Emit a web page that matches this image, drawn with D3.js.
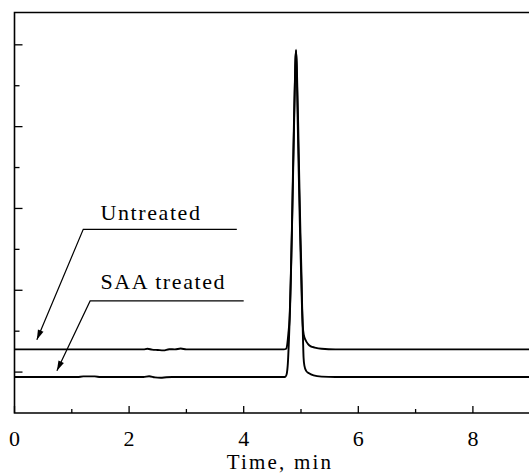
<!DOCTYPE html>
<html>
<head>
<meta charset="utf-8">
<script src="https://cdn.jsdelivr.net/npm/d3@7"></script>
<style>
  body { margin: 0; background: #fff; }
  svg { display: block; }
  text { font-family: "Liberation Serif", "Times New Roman", serif; fill: #000; }
</style>
</head>
<body>
<div id="chart"></div>
<script>
// chromatogram: untreated vs SAA treated (detector signal, arbitrary units)
var timeUntreated = [0, 2.25, 2.32, 2.4, 2.5, 2.6, 2.7, 2.8, 2.9, 3.0, 4.70, 4.74, 4.76, 4.78, 4.80, 4.82, 4.84, 4.86, 4.88, 4.90, 4.913,
  4.925, 4.94, 4.96, 4.98, 5.00, 5.015, 5.03, 5.05, 5.08, 5.12, 5.17, 5.24, 5.36, 5.6, 9.3];
var signalUntreated = [0.555, 0.555, 0.57, 0.55, 0.54, 0.53, 0.56, 0.555, 0.575, 0.555, 0.555, 0.57, 0.68, 0.95, 1.3, 2.2, 3.4, 4.9, 6.3, 7.5, 7.88,
  7.45, 6.3, 4.9, 3.6, 2.5, 1.7, 1.15, 0.9, 0.78, 0.69, 0.63, 0.6, 0.57, 0.555, 0.555];

var timeSAA = [0, 1.1, 1.2, 1.4, 1.5, 2.25, 2.35, 2.45, 2.55, 2.65, 2.75, 4.70, 4.73, 4.75, 4.77, 4.79, 4.81, 4.83, 4.85, 4.87, 4.89, 4.905, 4.915,
  4.93, 4.95, 4.97, 4.99, 5.01, 5.02, 5.035, 5.045, 5.06, 5.09, 5.14, 5.22, 5.36, 5.6, 9.3];
var signalSAA = [-0.12, -0.12, -0.105, -0.105, -0.12, -0.12, -0.10, -0.13, -0.14, -0.125, -0.12, -0.12, -0.11, -0.05, 0.2, 0.8, 1.6, 2.7, 4.0, 5.4, 6.8, 7.7, 7.85,
  7.3, 6.1, 4.7, 3.4, 2.3, 1.6, 0.8, 0.35, 0.15, 0.03, -0.03, -0.08, -0.11, -0.12, -0.12];

var xTicksMajor = [0, 2, 4, 6, 8];
var xTicksMinor = [1, 3, 5, 7, 9];
var yTicksMajor = [0, 2, 4, 6, 8];
var yTicksMinor = [1, 3, 5, 7];

var labels = [
  {text: "Untreated", tx: 1.50, ty: 3.73, x1: 3.88, x0: 1.20, y0: 3.49, tipX: 0.39, tipY: 0.79},
  {text: "SAA treated", tx: 1.50, ty: 2.02, x1: 4.00, x0: 1.32, y0: 1.74, tipX: 0.74, tipY: 0.03}
];

var width = 529, height = 474;

var x = d3.scaleLinear().domain([0, 9.3]).range([14.5, 14.5 + 57.3 * 9.3]);
var y = d3.scaleLinear().domain([-1, 8.79]).range([413, 12.5]);

var svg = d3.select("#chart").append("svg")
  .attr("width", width)
  .attr("height", height);

// frame: left, top, bottom (right side runs off the picture)
var frame = svg.append("g").attr("stroke", "#000").attr("stroke-width", 1.6).attr("fill", "none");
frame.append("path")
  .attr("d", "M" + x(9.3) + "," + y.range()[1] + "H" + x(0) + "V" + y.range()[0] + "H" + x(9.3));

// x ticks point inward
var xAxis = svg.append("g").attr("stroke", "#000").attr("stroke-width", 1.3);
xAxis.selectAll(".xmaj").data(xTicksMajor).enter().append("line")
  .attr("x1", function(d) { return x(d); }).attr("x2", function(d) { return x(d); })
  .attr("y1", 413).attr("y2", 406);
xAxis.selectAll(".xmin").data(xTicksMinor).enter().append("line")
  .attr("x1", function(d) { return x(d); }).attr("x2", function(d) { return x(d); })
  .attr("y1", 413).attr("y2", 409);

svg.selectAll(".xlab").data(xTicksMajor).enter().append("text")
  .attr("x", function(d) { return x(d); })
  .attr("y", 445.5)
  .attr("text-anchor", "middle")
  .style("font-size", "22px")
  .text(function(d) { return d; });

svg.append("text")
  .attr("x", 280)
  .attr("y", 469)
  .attr("text-anchor", "middle")
  .style("font-size", "21px")
  .style("letter-spacing", "2.2px")
  .text("Time, min");

// y ticks, no labels
var yAxis = svg.append("g").attr("stroke", "#000").attr("stroke-width", 1.3);
yAxis.selectAll(".ymaj").data(yTicksMajor).enter().append("line")
  .attr("x1", x(0)).attr("x2", x(0) + 8)
  .attr("y1", function(d) { return y(d); }).attr("y2", function(d) { return y(d); });
yAxis.selectAll(".ymin").data(yTicksMinor).enter().append("line")
  .attr("x1", x(0)).attr("x2", x(0) + 5)
  .attr("y1", function(d) { return y(d); }).attr("y2", function(d) { return y(d); });

// traces
var line = d3.line()
  .x(function(d) { return x(d[0]); })
  .y(function(d) { return y(d[1]); })
  .curve(d3.curveMonotoneX);

var series = [d3.zip(timeUntreated, signalUntreated), d3.zip(timeSAA, signalSAA)];
svg.selectAll(".trace").data(series).enter().append("path")
  .attr("class", "trace")
  .attr("d", line)
  .attr("fill", "none")
  .attr("stroke", "#000")
  .attr("stroke-width", 1.9)
  .attr("stroke-linejoin", "round");

// callout labels with arrows
var ann = svg.selectAll(".ann").data(labels).enter().append("g").attr("class", "ann");

ann.append("text")
  .attr("x", function(d) { return x(d.tx); })
  .attr("y", function(d) { return y(d.ty); })
  .style("font-size", "22px")
  .style("letter-spacing", "1.6px")
  .text(function(d) { return d.text; });

ann.append("path")
  .attr("fill", "none")
  .attr("stroke", "#000")
  .attr("stroke-width", 1.2)
  .attr("d", function(d) {
    return "M" + x(d.x1) + "," + y(d.y0) + "H" + x(d.x0) + "L" + x(d.tipX) + "," + y(d.tipY);
  });

ann.append("path")
  .attr("fill", "#000")
  .attr("d", function(d) {
    var tx = x(d.tipX), ty = y(d.tipY);
    var dx = x(d.x0) - tx, dy = y(d.y0) - ty;
    var len = Math.sqrt(dx * dx + dy * dy);
    var ux = dx / len, uy = dy / len;
    var bx = tx + ux * 10, by = ty + uy * 10;
    return "M" + tx + "," + ty +
      "L" + (bx - uy * 3) + "," + (by + ux * 3) +
      "L" + (bx + uy * 3) + "," + (by - ux * 3) + "Z";
  });
</script>
</body>
</html>
